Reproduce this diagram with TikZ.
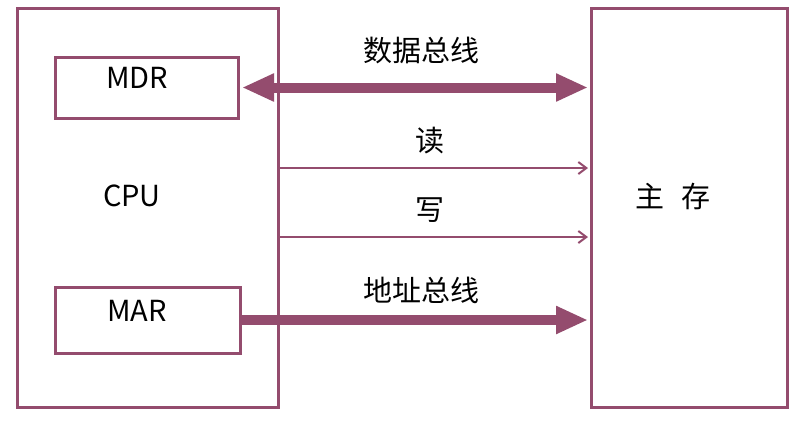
\documentclass[tikz,border=0pt]{standalone}
\usepackage{fontspec}
\setmainfont{Noto Sans CJK SC}
\usetikzlibrary{arrows.meta}
\definecolor{busc}{RGB}{148,76,110}
\tikzset{
  box/.style={draw=busc, line width=3pt, inner sep=0pt, fill=none},
  lbl/.style={font=\fontsize{29}{32}\selectfont, inner sep=0pt, text=black},
  bigbus/.style={busc, line width=10pt},
  ctlline/.style={busc, line width=2pt, -{Straight Barb[length=8pt,width=12pt]}}
}
\begin{document}
\begin{tikzpicture}[x=1pt,y=-1pt]
\useasboundingbox[fill=white] (0,0) rectangle (800,424);
\node[box, minimum width=261pt, minimum height=399pt] (cpu) at (147.5,208) {};
\node[box, minimum width=196pt, minimum height=399pt] (mem) at (689,208) {};
\node[box, minimum width=183pt, minimum height=61pt] (mdr) at (147,87.5) {};
\node[box, minimum width=185pt, minimum height=66pt] (mar) at (147.5,320) {};
\node[lbl] (mdrt) at (137,78) {MDR};
\node[lbl] (cput) at (132,196) {CPU};
\node[lbl] (mart) at (137,311) {MAR};
\node[lbl] (memt) at (673,196) {主\kern 17pt 存};
\node[lbl] (dbt) at (421,50) {数据总线};
\node[lbl] (rdt) at (430,141) {读};
\node[lbl] (wrt) at (430,210) {写};
\node[lbl] (abt) at (421,290) {地址总线};
\coordinate (rd) at (0,168);
\coordinate (wr) at (0,237);
\draw[bigbus, {Triangle[length=32pt,width=26pt]}-{Triangle[length=32pt,width=26pt]}]
  ([xshift=2pt]mdr.east) -- ([xshift=-1.5pt]mem.west |- mdr.east);
\draw[bigbus, -{Triangle[length=32pt,width=26pt]}]
  (mar.east) -- ([xshift=-1.5pt]mem.west |- mar.east);
\draw[ctlline] (cpu.east |- rd) -- ([xshift=-1.5pt]mem.west |- rd);
\draw[ctlline] (cpu.east |- wr) -- ([xshift=-1.5pt]mem.west |- wr);
\end{tikzpicture}
\end{document}
